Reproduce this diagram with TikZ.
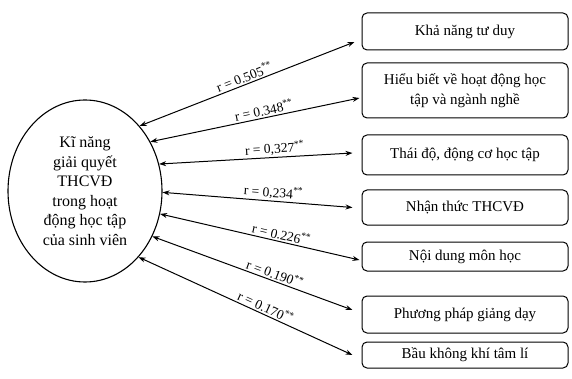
\documentclass[tikz,border=0pt]{standalone}
\usepackage{fontspec}
\setmainfont{Liberation Serif}
\usetikzlibrary{shapes.geometric,arrows.meta,calc}
\begin{document}
\begin{tikzpicture}[x=1pt,y=-1pt,
  box/.style={draw, line width=1pt, rounded corners=5pt, minimum width=206pt, inner sep=0pt, font=\fontsize{15}{20}\selectfont, align=center},
  conn/.style={line width=1pt, {Stealth[length=7pt,width=5pt]}-{Stealth[length=7pt,width=5pt]}},
  lab/.style={sloped, above, inner sep=1.5pt, font=\fontsize{13.5}{15}\selectfont}
]
\useasboundingbox (0,0) rectangle (572,379);
\node[draw, ellipse, line width=1.1pt, minimum width=154pt, minimum height=182pt, inner sep=0pt,
  align=center, font=\fontsize{16}{19.5}\selectfont] (e) at (85,191)
  {Kĩ năng\\giải quyết\\THCVĐ\\trong hoạt\\động học tập\\của sinh viên};
\node[box, minimum height=37pt] (b1) at (465,31.5) {Khả năng tư duy};
\node[box, minimum height=55pt] (b2) at (465,90.5) {Hiểu biết về hoạt động học\\tập và ngành nghề};
\node[box, minimum height=40pt] (b3) at (465,155) {Thái độ, động cơ học tập};
\node[box, minimum height=35pt] (b4) at (465,207.5) {Nhận thức THCVĐ};
\node[box, minimum height=29pt] (b5) at (465,256.5) {Nội dung môn học};
\node[box, minimum height=37pt] (b6) at (465,314.5) {Phương pháp giảng dạy};
\node[box, minimum height=26pt] (b7) at (465,355) {Bầu không khí tâm lí};
\draw[conn] (e.50) -- node[lab, pos=0.5] {r = 0.505\textsuperscript{**}} ($(b1.west)+(-7,10.5)$);
\draw[conn] (e.37) -- node[lab, pos=0.55] {r = 0.348\textsuperscript{**}} ($(b2.west)+(-2,7.5)$);
\draw[conn] (e.20) -- node[lab, pos=0.6] {r = 0,327\textsuperscript{**}} ($(b3.west)+(-9,-2)$);
\draw[conn] (e.-1) -- node[lab, pos=0.58] {r = 0,234\textsuperscript{**}} ($(b4.west)+(-9,0)$);
\draw[conn] (e.-17) -- node[lab, pos=0.6] {r = 0.226\textsuperscript{**}} ($(b5.west)+(-2,3.5)$);
\draw[conn] (e.-34) -- node[lab, pos=0.6] {r = 0.190\textsuperscript{**}} ($(b6.west)+(-9,-4.5)$);
\draw[conn] (e.-51) -- node[lab, pos=0.58] {r = 0.170\textsuperscript{**}} ($(b7.west)+(-9,0)$);
\end{tikzpicture}
\end{document}
